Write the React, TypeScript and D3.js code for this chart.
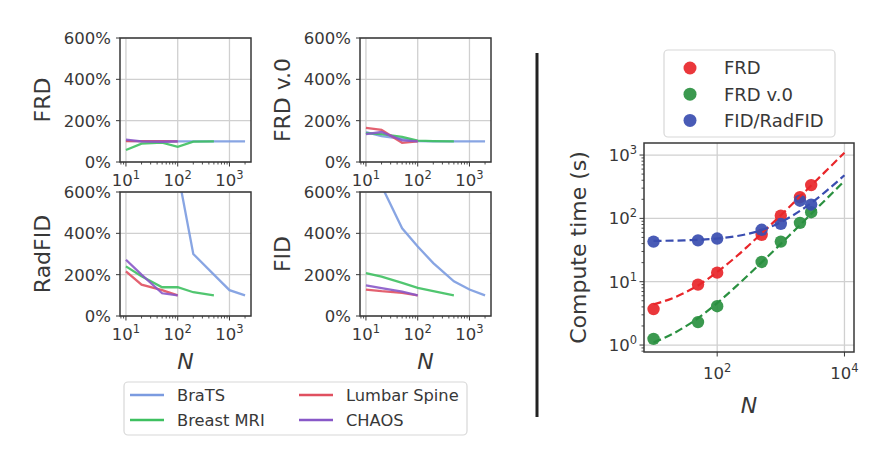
import * as React from 'react';

import {curveMonotoneX, line, scaleLinear, scaleLog} from "d3";

const width = 891;
const height = 457;
const font = '"DejaVu Sans", sans-serif';
const ink = '#383838';
const gridColor = '#d0d0d0';

// datasets on the left
const datasetNames = ['BraTS', 'Breast MRI', 'Lumbar Spine', 'CHAOS'];
const datasetColors = ['#7b9be0', '#3ec060', '#e05060', '#8858c8'];

const nBraTS = [10, 20, 50, 100, 200, 500, 1000, 2000];
const nBreast = [10, 20, 50, 100, 200, 500];
const nSmall = [10, 20, 50, 100];

// relative scores (%), one array per metric and dataset
const frdBraTS = [102, 100, 100, 100, 100, 100, 100, 100];
const frdBreast = [58, 89, 94, 73, 99, 100];
const frdLumbar = [101, 101, 101, 100];
const frdChaos = [108, 100, 98, 100];

const frdV0BraTS = [145, 125, 112, 101, 100, 100, 100, 100];
const frdV0Breast = [140, 135, 122, 103, 101, 100];
const frdV0Lumbar = [165, 155, 93, 100];
const frdV0Chaos = [135, 145, 105, 100];

const radBraTS = [1500, 1100, 850, 700, 300, 200, 125, 100];
const radBreast = [240, 192, 139, 140, 115, 100];
const radLumbar = [216, 152, 125, 100];
const radChaos = [272, 200, 110, 100];

const fidBraTS = [900, 630, 424, 336, 256, 168, 128, 100];
const fidBreast = [208, 190, 160, 136, 120, 100];
const fidLumbar = [128, 120, 112, 100];
const fidChaos = [148, 135, 118, 100];

const pctTicks = [0, 200, 400, 600];
const pctLabels = ['0%', '200%', '400%', '600%'];
const leftDecades = [10, 100, 1000];

// compute time panel
const timeN = [10, 50, 100, 500, 1000, 2000, 3000];
const timeFRD = [3.7, 9.0, 13.9, 55, 110, 216, 335];
const timeFRDv0 = [1.25, 2.3, 4.1, 20.5, 43, 85, 125];
const timeFID = [43, 45, 48, 66, 82, 190, 165];

const fitN = [10, 20, 30, 50, 100, 200, 300, 500, 1000, 2000, 5000, 10000];
const fitFRD = [4.4, 5.5, 6.6, 8.7, 14.2, 25, 36, 58, 112, 221, 547, 1090];
const fitFRDv0 = [1.1, 1.5, 1.9, 2.65, 4.6, 8.5, 12.4, 20.2, 39.6, 78.5, 195, 390];
const fitFID = [44, 44.5, 44.9, 45.8, 48, 52.3, 56.7, 65.4, 87, 131, 262, 480];

const timeNames = ['FRD', 'FRD v.0', 'FID/RadFID'];
const timeColors = ['#e8262a', '#2a9040', '#3a4db0'];
const timeXTicks = [100, 10000];
const timeYTicks = [1, 10, 100, 1000];

const panels = [
    {label: 'FRD', x0: 120, y0: 38, values: [frdBraTS, frdBreast, frdLumbar, frdChaos], xLabel: false},
    {label: 'FRD v.0', x0: 360, y0: 38, values: [frdV0BraTS, frdV0Breast, frdV0Lumbar, frdV0Chaos], xLabel: false},
    {label: 'RadFID', x0: 120, y0: 192, values: [radBraTS, radBreast, radLumbar, radChaos], xLabel: true},
    {label: 'FID', x0: 360, y0: 192, values: [fidBraTS, fidBreast, fidLumbar, fidChaos], xLabel: true},
];
const seriesN = [nBraTS, nBreast, nSmall, nSmall];

const PowerLabel = ({x, y, exp, anchor}: {x: number, y: number, exp: number, anchor: string}) => (
    <text x={x} y={y} textAnchor={anchor} fontSize={16.5} fill={ink} fontFamily={font}>
        <tspan>10</tspan>
        <tspan dy={-7} fontSize={11.5}>{exp}</tspan>
    </text>
);

const SmallPanel = ({panel, idx}: {panel: typeof panels[0], idx: number}) => {
    const w = 131;
    const h = 124;
    const xScale = scaleLog().domain([7.674, 2606]).range([panel.x0, panel.x0 + w]);
    const yScale = scaleLinear().domain([0, 600]).range([panel.y0 + h, panel.y0]);
    const bottom = panel.y0 + h;
    const minor = xScale.ticks().filter(t => !leftDecades.includes(t));
    const clipId = `clip-${idx}`;
    return (
        <g>
            <defs>
                <clipPath id={clipId}>
                    <rect x={panel.x0} y={panel.y0} width={w} height={h}/>
                </clipPath>
            </defs>
            {leftDecades.map(t =>
                <line key={'gx' + t} x1={xScale(t)} x2={xScale(t)} y1={panel.y0} y2={bottom}
                      stroke={gridColor} strokeWidth={1.3}/>
            )}
            {pctTicks.map(t =>
                <line key={'gy' + t} x1={panel.x0} x2={panel.x0 + w} y1={yScale(t)} y2={yScale(t)}
                      stroke={gridColor} strokeWidth={1.3}/>
            )}
            <g clipPath={`url(#${clipId})`}>
                {panel.values.map((vals, i) => {
                    const path = line<number>()
                        .x((d, j) => xScale(seriesN[i][j]))
                        .y(d => yScale(d))(vals);
                    return <path key={i} d={path || ''} fill="none" stroke={datasetColors[i]}
                                 strokeWidth={2.3} strokeOpacity={0.9}/>;
                })}
            </g>
            <rect x={panel.x0} y={panel.y0} width={w} height={h} fill="none" stroke={ink} strokeWidth={1.5}/>
            {pctTicks.map((t, i) =>
                <g key={'ty' + t}>
                    <line x1={panel.x0 - 4} x2={panel.x0} y1={yScale(t)} y2={yScale(t)} stroke={ink}/>
                    <text x={panel.x0 - 9} y={yScale(t)} dy="0.36em" textAnchor="end" fontSize={16.5}
                          fill={ink} fontFamily={font}>{pctLabels[i]}</text>
                </g>
            )}
            {leftDecades.map(t =>
                <g key={'tx' + t}>
                    <line x1={xScale(t)} x2={xScale(t)} y1={bottom} y2={bottom + 4.5} stroke={ink}/>
                    <PowerLabel x={xScale(t)} y={bottom + 24} exp={Math.round(Math.log10(t))} anchor="middle"/>
                </g>
            )}
            {minor.map(t =>
                <line key={'m' + t} x1={xScale(t)} x2={xScale(t)} y1={bottom} y2={bottom + 2.5}
                      stroke={ink} strokeWidth={0.9}/>
            )}
            <text transform={`translate(${panel.x0 - 78},${panel.y0 + h / 2}) rotate(-90)`}
                  textAnchor="middle" dy="0.36em" fontSize={22} fill={ink} fontFamily={font}>
                {panel.label}
            </text>
            {panel.xLabel &&
                <text x={panel.x0 + w / 2} y={bottom + 53} textAnchor="middle" fontSize={22}
                      fontStyle="italic" fill={ink} fontFamily={font}>N</text>}
        </g>
    );
};

const TimePanel = () => {
    const left = 644, right = 854, top = 143, bottom = 352;
    const xScale = scaleLog().domain([Math.pow(10, 0.85), Math.pow(10, 4.15)]).range([left, right]);
    const yScale = scaleLog().domain([Math.pow(10, -0.11), Math.pow(10, 3.19)]).range([bottom, top]);
    const yMinor = yScale.ticks().filter(t => !timeYTicks.includes(t));
    const points = [timeFRD, timeFRDv0, timeFID];
    const fits = [fitFRD, fitFRDv0, fitFID];
    return (
        <g>
            {timeXTicks.map(t =>
                <line key={'gx' + t} x1={xScale(t)} x2={xScale(t)} y1={top} y2={bottom}
                      stroke={gridColor} strokeWidth={1.3}/>
            )}
            {timeYTicks.map(t =>
                <line key={'gy' + t} x1={left} x2={right} y1={yScale(t)} y2={yScale(t)}
                      stroke={gridColor} strokeWidth={1.3}/>
            )}
            {points.map((vals, i) =>
                <g key={'p' + i}>
                    {vals.map((v, j) =>
                        <circle key={j} cx={xScale(timeN[j])} cy={yScale(v)} r={6.2}
                                fill={timeColors[i]} fillOpacity={0.92}/>
                    )}
                </g>
            )}
            {fits.map((vals, i) => {
                const path = line<number>()
                    .x((d, j) => xScale(fitN[j]))
                    .y(d => yScale(d))
                    .curve(curveMonotoneX)(vals);
                return <path key={'f' + i} d={path || ''} fill="none" stroke={timeColors[i]}
                             strokeWidth={2.2} strokeDasharray="8 4"/>;
            })}
            <rect x={left} y={top} width={right - left} height={bottom - top} fill="none"
                  stroke={ink} strokeWidth={1.5}/>
            {timeYTicks.map(t =>
                <g key={'ty' + t}>
                    <line x1={left - 4.5} x2={left} y1={yScale(t)} y2={yScale(t)} stroke={ink}/>
                    <PowerLabel x={left - 7} y={yScale(t) + 6} exp={Math.round(Math.log10(t))} anchor="end"/>
                </g>
            )}
            {yMinor.map(t =>
                <line key={'my' + t} x1={left - 2.5} x2={left} y1={yScale(t)} y2={yScale(t)}
                      stroke={ink} strokeWidth={0.9}/>
            )}
            {timeXTicks.map(t =>
                <g key={'tx' + t}>
                    <line x1={xScale(t)} x2={xScale(t)} y1={bottom} y2={bottom + 4.5} stroke={ink}/>
                    <PowerLabel x={xScale(t)} y={bottom + 27} exp={Math.round(Math.log10(t))} anchor="middle"/>
                </g>
            )}
            <text transform={`translate(578,${(top + bottom) / 2}) rotate(-90)`} textAnchor="middle"
                  dy="0.36em" fontSize={22} fill={ink} fontFamily={font}>Compute time (s)</text>
            <text x={(left + right) / 2} y={413} textAnchor="middle" fontSize={22} fontStyle="italic"
                  fill={ink} fontFamily={font}>N</text>

            <rect x={664} y={50} width={171} height={87} rx={4} fill="#fff" fillOpacity={0.8}
                  stroke="#d8d8d8" strokeWidth={1.2}/>
            {timeNames.map((name, i) =>
                <g key={name} transform={`translate(0,${68 + i * 26.2})`}>
                    <circle cx={690} cy={0} r={6.5} fill={timeColors[i]} fillOpacity={0.92}/>
                    <text x={724} y={0} dy="0.36em" fontSize={18} fill={ink} fontFamily={font}>{name}</text>
                </g>
            )}
        </g>
    );
};

const App = () => (
    <svg width={width} height={height} style={{position: 'absolute', left: 0, top: 0, background: '#fff'}}>
        {panels.map((p, i) => <SmallPanel key={p.label} panel={p} idx={i}/>)}

        {/* legend order: BraTS, Breast MRI | Lumbar Spine, CHAOS */}
        <rect x={124} y={382} width={343} height={53} rx={4} fill="#fff" stroke="#d8d8d8" strokeWidth={1.2}/>
        {datasetNames.map((name, i) => {
            const col = i < 2 ? 0 : 1;
            const row = i % 2;
            const hx = col === 0 ? 130 : 299;
            const hy = 395 + row * 25;
            return (
                <g key={name}>
                    <line x1={hx} x2={hx + 34} y1={hy} y2={hy} stroke={datasetColors[i]} strokeWidth={2.3}/>
                    <text x={hx + 47} y={hy} dy="0.36em" fontSize={16.3} fill={ink} fontFamily={font}>{name}</text>
                </g>
            );
        })}

        <line x1={537} x2={537} y1={53} y2={417} stroke="#222" strokeWidth={3}/>

        <TimePanel/>
    </svg>
);

export default App;
